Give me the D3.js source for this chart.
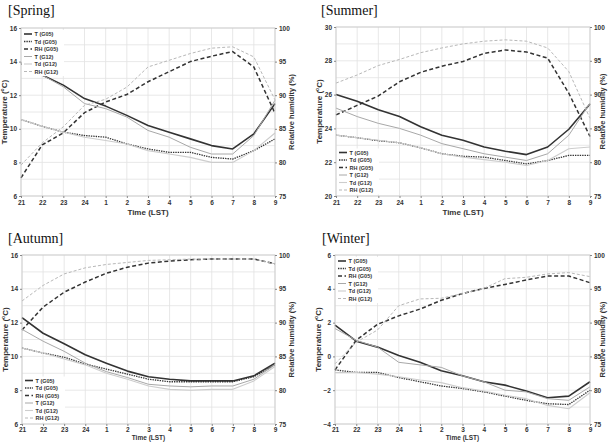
<!DOCTYPE html>
<html lang="en">
<head>
<meta charset="utf-8">
<title>Diurnal variation of T, Td and RH (G05 / G12)</title>
<style>
  body { margin: 0; background: #fff; }
  svg { display: block; }
  .tick text { font-family: "Liberation Sans", Arial, sans-serif; font-weight: bold; font-size: 6.5px; fill: #333; }
  .tick line { stroke: #888; }
  .axis-title { font-family: "Liberation Sans", Arial, sans-serif; font-weight: bold; fill: #333; }
  .panel-title { font-family: "Liberation Serif", "Times New Roman", serif; font-size: 14px; fill: #111; }
  .legend text { font-family: "Liberation Sans", Arial, sans-serif; font-weight: bold; font-size: 5.5px; fill: #333; }
</style>
</head>
<body>
<div id="chart"></div>
<script src="https://d3js.org/d3.v7.min.js"></script>
<script>
var hours = ["21","22","23","24","1","2","3","4","5","6","7","8","9"];
var seriesNames = ["T (G05)","Td (G05)","RH (G05)","T (G12)","Td (G12)","RH (G12)"];
var rhTicks = [75,80,85,90,95,100];

// Spring
var springTicks = [6,8,10,12,14,16];
var springT05  = [13.9,13.2,12.6,11.8,11.35,10.8,10.2,9.8,9.4,9.0,8.8,9.7,11.5];
var springTd05 = [10.55,10.15,9.8,9.6,9.5,9.1,8.8,8.6,8.6,8.3,8.2,8.7,9.4];
var springRH05 = [77.7,82.6,84.4,87.4,89.0,90.1,92.0,93.5,95.0,95.8,96.5,94.2,87.3];
var springT12  = [13.9,13.2,12.5,11.5,11.2,10.7,9.9,9.5,8.9,8.5,8.5,9.6,11.7];
var springTd12 = [10.55,10.15,9.8,9.5,9.3,9.1,8.7,8.5,8.3,8.0,8.0,8.7,9.75];
var springRH12 = [79.6,82.9,85.3,88.5,89.4,91.2,94.2,95.2,96.2,97.0,97.2,95.7,89.3];

// Summer
var summerTicks = [20,22,24,26,28,30];
var summerT05  = [26.0,25.6,25.1,24.7,24.1,23.6,23.3,22.9,22.65,22.45,22.9,23.95,25.45];
var summerTd05 = [23.6,23.45,23.27,23.15,22.85,22.5,22.35,22.3,22.1,21.9,22.1,22.4,22.4];
var summerRH05 = [87.0,88.4,89.8,91.9,93.3,94.2,94.9,96.1,96.6,96.3,95.4,90.2,83.8];
var summerT12  = [25.2,24.7,24.3,24.0,23.6,23.1,22.8,22.5,22.3,22.1,22.5,23.6,25.5];
var summerTd12 = [23.6,23.45,23.3,23.15,22.85,22.5,22.3,22.15,22.0,21.8,22.1,22.8,22.9];
var summerRH12 = [91.7,92.9,94.3,95.2,96.2,96.9,97.5,97.9,98.1,97.9,96.9,93.4,86.5];

// Autumn
var autumnTicks = [6,8,10,12,14,16];
var autumnT05  = [12.3,11.37,10.75,10.1,9.6,9.13,8.8,8.65,8.55,8.55,8.55,8.85,9.6];
var autumnTd05 = [10.5,10.2,9.95,9.55,9.25,8.95,8.65,8.5,8.5,8.5,8.5,8.8,9.5];
var autumnRH05 = [88.9,92.3,94.5,96.0,97.3,98.2,98.8,99.1,99.3,99.4,99.4,99.4,98.7];
var autumnT12  = [11.6,10.9,10.3,9.6,9.1,8.75,8.35,8.25,8.2,8.25,8.25,8.65,9.5];
var autumnTd12 = [10.5,10.2,9.85,9.5,9.0,8.65,8.25,8.05,8.0,8.05,8.05,8.55,9.4];
var autumnRH12 = [93.2,95.5,97.2,98.1,98.6,98.9,99.2,99.3,99.4,99.4,99.4,99.4,98.7];

// Winter
var winterTicks = [-4,-2,0,2,4,6];
var winterT05  = [1.85,0.9,0.55,0.05,-0.35,-0.85,-1.15,-1.5,-1.7,-2.05,-2.45,-2.35,-1.5];
var winterTd05 = [-0.8,-0.95,-0.95,-1.25,-1.5,-1.75,-1.9,-2.1,-2.35,-2.6,-2.8,-2.85,-2.0];
var winterRH05 = [83.0,87.4,89.75,91.0,92.0,93.3,94.3,95.05,95.65,96.3,96.9,96.9,95.9];
var winterT12  = [1.65,0.95,0.55,-0.35,-0.5,-0.65,-1.15,-1.5,-2.0,-2.1,-2.5,-2.6,-1.8];
var winterTd12 = [-0.95,-0.95,-1.05,-1.2,-1.4,-1.55,-1.85,-2.05,-2.3,-2.5,-2.9,-3.1,-2.15];
var winterRH12 = [83.9,87.1,88.9,92.5,93.5,93.6,94.3,95.05,96.5,96.7,97.2,97.4,96.8];

var W = 609, H = 442;

// line look for each series, same order as seriesNames
var styles = [
  {color: "#333", width: 1.6, dash: null,     axis: "t"},
  {color: "#333", width: 1.3, dash: "1.4,1",  axis: "t"},
  {color: "#333", width: 1.5, dash: "4,2.5",  axis: "rh"},
  {color: "#a8a8a8", width: 1, dash: null,    axis: "t"},
  {color: "#cdcdcd", width: 1.1, dash: null,  axis: "t"},
  {color: "#b8b8b8", width: 1, dash: "3,2",   axis: "rh"}
];

var panels = [
  {title: "[Spring]", tx: 8,   ty: 15,  x0: 21,  x1: 275, y0: 28,  y1: 196, ticks: springTicks, legend: "top",
   series: [springT05, springTd05, springRH05, springT12, springTd12, springRH12]},
  {title: "[Summer]", tx: 321, ty: 15,  x0: 336, x1: 590, y0: 27,  y1: 196, ticks: summerTicks, legend: "bottom",
   series: [summerT05, summerTd05, summerRH05, summerT12, summerTd12, summerRH12]},
  {title: "[Autumn]", tx: 8,   ty: 243, x0: 22,  x1: 275, y0: 255, y1: 424, ticks: autumnTicks, legend: "bottom",
   series: [autumnT05, autumnTd05, autumnRH05, autumnT12, autumnTd12, autumnRH12]},
  {title: "[Winter]", tx: 322, ty: 243, x0: 335, x1: 590, y0: 255, y1: 424, ticks: winterTicks, legend: "top",
   series: [winterT05, winterTd05, winterRH05, winterT12, winterTd12, winterRH12]}
];

var svg = d3.select("#chart").append("svg")
  .attr("width", W).attr("height", H)
  .attr("viewBox", "0 0 " + W + " " + H);

panels.forEach(function(p) {
  var g = svg.append("g");
  var tmin = p.ticks[0], tmax = p.ticks[p.ticks.length - 1];

  var x = d3.scalePoint().domain(hours).range([p.x0, p.x1]);
  var y = d3.scaleLinear().domain([tmin, tmax]).range([p.y1, p.y0]);
  var yr = d3.scaleLinear().domain([75, 100]).range([p.y1, p.y0]);

  g.append("text").attr("class", "panel-title")
    .attr("x", p.tx).attr("y", p.ty).text(p.title);

  // grid: every hour, every 1 degree
  g.append("g").selectAll("line").data(hours).enter().append("line")
    .attr("x1", function(d) { return x(d); }).attr("x2", function(d) { return x(d); })
    .attr("y1", p.y0).attr("y2", p.y1)
    .attr("stroke", "#e2e2e2").attr("stroke-width", 0.8);
  g.append("g").selectAll("line").data(d3.range(tmin, tmax + 1, 1)).enter().append("line")
    .attr("x1", p.x0).attr("x2", p.x1)
    .attr("y1", function(d) { return y(d); }).attr("y2", function(d) { return y(d); })
    .attr("stroke", "#e2e2e2").attr("stroke-width", 0.8);

  // series lines
  p.series.forEach(function(vals, k) {
    var s = styles[k];
    var sc = s.axis === "rh" ? yr : y;
    var line = d3.line()
      .x(function(d, i) { return x(hours[i]); })
      .y(function(d) { return sc(d); });
    g.append("path").datum(vals)
      .attr("d", line)
      .attr("fill", "none")
      .attr("stroke", s.color)
      .attr("stroke-width", s.width)
      .attr("stroke-dasharray", s.dash)
      .attr("stroke-linejoin", "round");
  });

  // legend
  var rowH = 7.5;
  var ly = p.legend === "top" ? p.y0 + 6 : p.y1 - 6 - rowH * 5;
  var lg = g.append("g").attr("class", "legend");
  lg.append("rect")
    .attr("x", p.x0 + 1).attr("y", ly - 4)
    .attr("width", 42).attr("height", rowH * 6 + 1)
    .attr("fill", "#fff");
  seriesNames.forEach(function(name, k) {
    var s = styles[k];
    var yy = ly + k * rowH;
    lg.append("line")
      .attr("x1", p.x0 + 3).attr("x2", p.x0 + 11)
      .attr("y1", yy).attr("y2", yy)
      .attr("stroke", s.color).attr("stroke-width", s.width)
      .attr("stroke-dasharray", s.dash);
    lg.append("text")
      .attr("x", p.x0 + 13.5).attr("y", yy + 2)
      .text(name);
  });

  // frame
  g.append("rect")
    .attr("x", p.x0).attr("y", p.y0)
    .attr("width", p.x1 - p.x0).attr("height", p.y1 - p.y0)
    .attr("fill", "none").attr("stroke", "#c8c8c8").attr("stroke-width", 0.8);

  // axes
  var lowPanel = p.y1 + 19 > H - 2;
  var ax = g.append("g").attr("transform", "translate(0," + p.y1 + ")")
    .call(d3.axisBottom(x).tickSize(2).tickPadding(lowPanel ? 1 : 2));
  ax.select(".domain").remove();

  var ay = g.append("g").attr("transform", "translate(" + p.x0 + ",0)")
    .call(d3.axisLeft(y).tickValues(p.ticks).tickSize(2).tickPadding(2));
  ay.select(".domain").remove();

  var ar = g.append("g").attr("transform", "translate(" + p.x1 + ",0)")
    .call(d3.axisRight(yr).tickValues(rhTicks).tickSize(2).tickPadding(2));
  ar.select(".domain").remove();

  // axis titles (kept inside the window for the lower panels / right edge)
  var cy = (p.y0 + p.y1) / 2;
  g.append("text").attr("class", "axis-title")
    .attr("x", (p.x0 + p.x1) / 2).attr("y", lowPanel ? H - 2 : p.y1 + 19)
    .attr("text-anchor", "middle").style("font-size", lowPanel ? "6.5px" : "8px")
    .text("Time (LST)");

  var tl = g.append("text").attr("class", "axis-title")
    .attr("transform", "translate(" + (p.x0 - 14) + "," + cy + ") rotate(-90)")
    .attr("text-anchor", "middle").style("font-size", "8px");
  tl.append("tspan").text("Temperature (");
  tl.append("tspan").attr("dy", -3).style("font-size", "5px").text("o");
  tl.append("tspan").attr("dy", 3).text("C)");

  var rx = Math.min(p.x1 + 19, W - 4);
  g.append("text").attr("class", "axis-title")
    .attr("transform", "translate(" + rx + "," + cy + ") rotate(-90)")
    .attr("text-anchor", "middle").style("font-size", "7.5px")
    .text("Relative humidity (%)");
});
</script>
</body>
</html>
